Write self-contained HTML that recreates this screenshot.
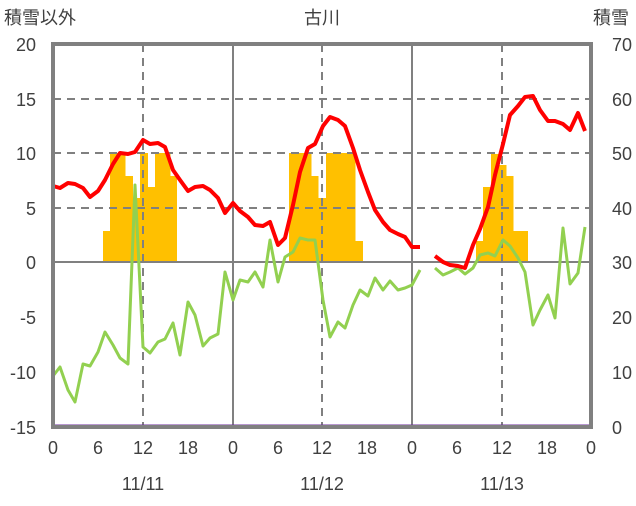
<!DOCTYPE html>
<html><head><meta charset="utf-8"><style>
body{margin:0;background:#fff;}
svg text{font-family:"Liberation Sans","Noto Sans CJK JP",sans-serif;fill:#404040;}
</style></head><body>
<svg width="636" height="501" viewBox="0 0 636 501" xmlns="http://www.w3.org/2000/svg">
<rect width="636" height="501" fill="#fff"/>
<!-- bars -->
<g fill="#FFC000">
<rect x="103" y="231" width="8" height="31"/>
<rect x="110" y="153" width="15.5" height="109"/>
<rect x="125" y="176" width="8" height="86"/>
<rect x="132" y="198" width="8.5" height="64"/>
<rect x="140" y="153" width="8" height="109"/>
<rect x="147" y="187" width="8.5" height="75"/>
<rect x="155" y="153" width="15.5" height="109"/>
<rect x="170" y="176" width="7" height="86"/>
<rect x="289" y="153" width="22.5" height="109"/>
<rect x="311" y="176" width="7.5" height="86"/>
<rect x="318" y="198" width="8.5" height="64"/>
<rect x="326" y="153" width="29.5" height="109"/>
<rect x="355" y="241" width="8" height="21"/>
<rect x="476" y="241" width="7.5" height="21"/>
<rect x="483" y="187" width="8.5" height="75"/>
<rect x="491" y="154" width="7.5" height="108"/>
<rect x="498" y="165" width="8.5" height="97"/>
<rect x="506" y="176" width="7.5" height="86"/>
<rect x="513" y="231" width="15" height="31"/>
</g>
<!-- grid -->
<g stroke="#808080" stroke-width="2" stroke-dasharray="8,6">
<line x1="53" y1="208" x2="591" y2="208"/>
<line x1="53" y1="153" x2="591" y2="153"/>
<line x1="53" y1="99" x2="591" y2="99"/>
<line x1="143" y1="44" x2="143" y2="427"/>
<line x1="322" y1="44" x2="322" y2="427"/>
<line x1="502" y1="44" x2="502" y2="427"/>
</g>
<g stroke="#808080" stroke-width="2">
<line x1="233" y1="44" x2="233" y2="427"/>
<line x1="412" y1="44" x2="412" y2="427"/>
<line x1="53" y1="262" x2="591" y2="262"/>
</g>
<!-- green -->
<polyline fill="none" stroke="#92D050" stroke-width="3" stroke-linejoin="round" points="53,376 60,367 68,390 75,402 83,364 90,366 98,352 105,332 113,345 120,358 128,364 135,185 143,347 150,353 158,342 165,339 173,323 180,355 188,302 195,315 203,346 210,338 218,334 225,272 233,300 240,280 248,282 255,272 263,287 270,240 278,282 285,257 293,252 300,238 308,240 315,240 323,300 330,337 338,322 345,328 353,305 360,290 368,296 375,278 383,290 390,281 398,290 405,288 412,285 420,270"/>
<polyline fill="none" stroke="#92D050" stroke-width="3" stroke-linejoin="round" points="435,268 443,275 450,272 458,268 465,274 473,268 480,255 488,253 495,256 503,240 510,246 518,258 525,272 533,325 540,310 548,295 555,318 563,228 570,284 578,273 585,227"/>
<!-- red -->
<polyline fill="none" stroke="#FF0000" stroke-width="4" stroke-linejoin="round" points="53,186 60,188 68,183 75,184 83,188 90,197 98,191 105,180 113,164 120,153 128,154 135,152 143,140 150,144 158,143 165,147 173,170 180,180 188,191 195,187 203,186 210,190 218,198 225,213 233,203 240,211 248,217 255,225 263,226 270,222 278,245 285,238 293,205 300,172 308,148 315,144 323,126 330,117 338,120 345,126 353,148 360,170 368,192 375,210 383,222 390,230 398,234 405,237 412,247 420,247"/>
<polyline fill="none" stroke="#FF0000" stroke-width="4" stroke-linejoin="round" points="435,256 443,262 450,265 458,266 465,268 473,245 480,229 488,207 495,175 503,144 510,115 518,106 525,97 533,96 540,110 548,121 555,121 563,124 570,130 578,113 585,131"/>
<!-- purple baseline -->
<line x1="53" y1="426" x2="591" y2="426" stroke="#7030A0" stroke-width="3"/>
<!-- frame -->
<rect x="53" y="44" width="538" height="383" fill="none" stroke="#808080" stroke-width="4"/>
<!-- left ticks -->
<g font-size="18" text-anchor="end">
<text x="36" y="51">20</text><text x="36" y="106">15</text><text x="36" y="160">10</text>
<text x="36" y="215">5</text><text x="36" y="269">0</text><text x="36" y="324">-5</text>
<text x="36" y="379">-10</text><text x="36" y="434">-15</text>
</g>
<g font-size="18" text-anchor="start">
<text x="612" y="51">70</text><text x="612" y="106">60</text><text x="612" y="160">50</text>
<text x="612" y="215">40</text><text x="612" y="269">30</text><text x="612" y="324">20</text>
<text x="612" y="379">10</text><text x="612" y="434">0</text>
</g>
<g font-size="18" text-anchor="middle">
<text x="53" y="454">0</text><text x="98" y="454">6</text><text x="143" y="454">12</text><text x="188" y="454">18</text>
<text x="233" y="454">0</text><text x="278" y="454">6</text><text x="322" y="454">12</text><text x="367" y="454">18</text>
<text x="412" y="454">0</text><text x="457" y="454">6</text><text x="502" y="454">12</text><text x="547" y="454">18</text>
<text x="591" y="454">0</text>
<text x="143" y="490">11/11</text><text x="322" y="490">11/12</text><text x="502" y="490">11/13</text>
<text x="322" y="24">古川</text>
</g>
<text x="4" y="24" font-size="18">積雪以外</text>
<text x="593" y="24" font-size="18">積雪</text>
</svg>
</body></html>
